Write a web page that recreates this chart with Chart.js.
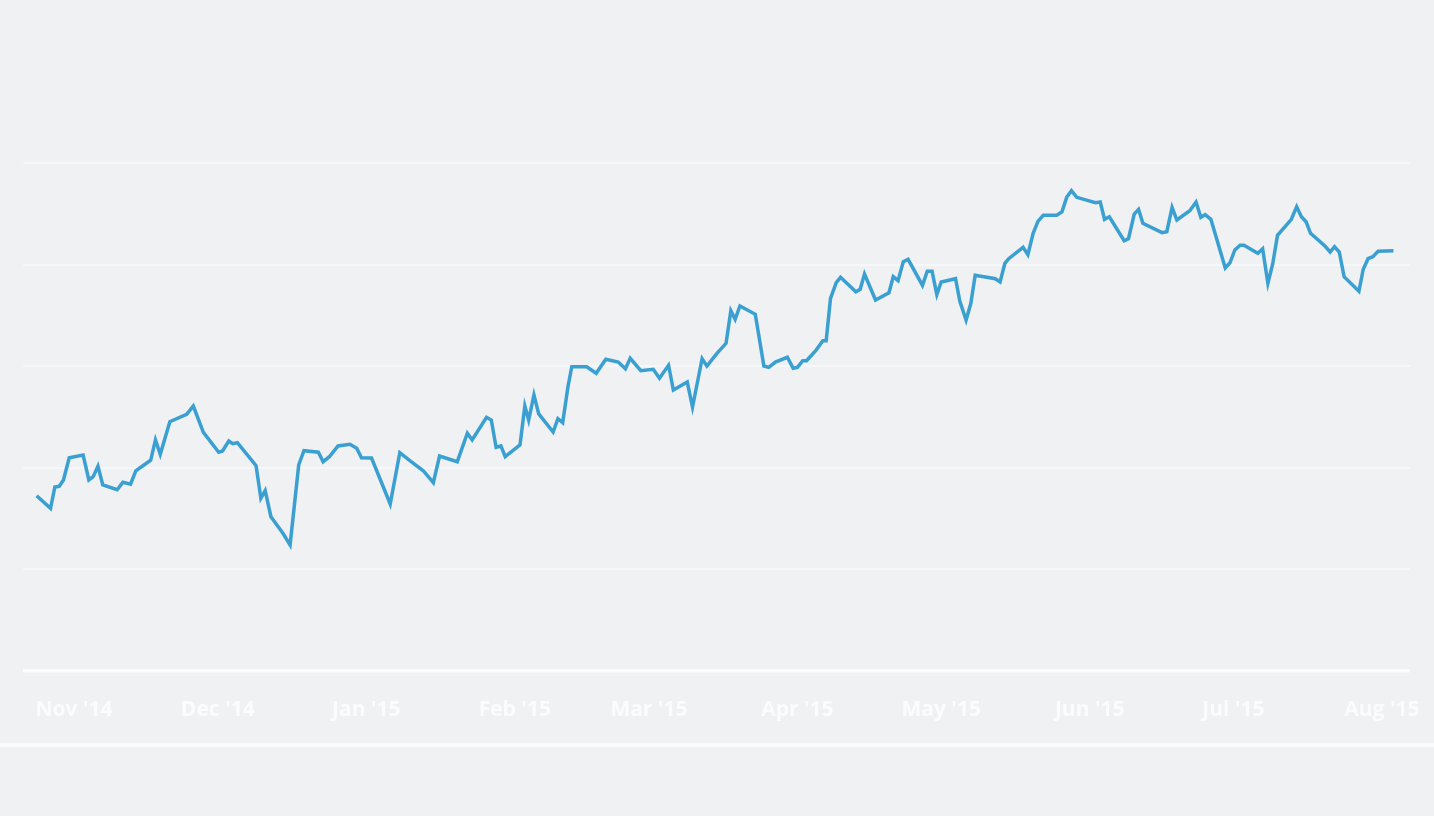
<!DOCTYPE html>
<html>
<head>
<meta charset="utf-8">
<title>Price history</title>
<script src="https://cdn.jsdelivr.net/npm/chart.js@4.4.1/dist/chart.umd.min.js"></script>
<style>
    html, body { margin: 0; padding: 0; background: #eff1f3; overflow: hidden; }
    #wrap { position: relative; width: 1434px; height: 816px; }
    #rule { position: absolute; left: 0; right: 0; top: 743px; height: 4px; background: #f9fafb; }
</style>
</head>
<body>
<div id="wrap">
    <canvas id="chart"></canvas>
    <div id="rule"></div>
</div>
<script>
// Month ticks, in days counted from 1 Nov 2014
const tickDays = [0, 30, 61, 92, 120, 151, 181, 212, 242, 273];
const tickLabels = ["Nov '14", "Dec '14", "Jan '15", "Feb '15", "Mar '15", "Apr '15", "May '15", "Jun '15", "Jul '15", "Aug '15"];

// Line vertices (day offset, value)
const days = [
    -7.8, -4.9, -4.0, -3.1, -2.2, -1.0, 1.9, 3.1, 4.0, 5.0, 6.0, 9.0, 10.2, 11.8, 12.9, 13.8,
    16.0, 17.0, 18.0, 20.0, 23.5, 24.9, 27.0, 30.2, 31.0, 32.3, 33.1, 34.1, 38.0,
    39.0, 39.9, 41.1, 43.6, 45.1, 46.9, 48.0, 51.0, 52.0, 53.3, 55.1, 57.6, 59.0, 60.0,
    62.1, 66.0, 68.0, 70.1, 72.9, 75.0, 76.3, 80.0, 82.1, 83.1,
    86.1, 87.1, 88.1, 89.1, 90.0, 93.1, 94.1, 94.9, 96.0, 97.0, 100.0, 101.0, 102.0,
    103.1, 103.9, 107.0, 109.0, 111.0, 113.6, 115.1, 116.1, 118.3, 120.9, 122.2, 124.1,
    125.1, 128.0, 129.1,
    131.1, 132.1, 134.2, 136.1, 137.1, 138.0, 139.0, 142.2, 144.0, 145.0, 146.4, 148.9,
    150.1, 151.0, 152.1, 152.9, 154.9, 156.3, 157.0, 157.9, 159.1, 160.0, 163.2, 164.1,
    165.0, 167.3, 170.1, 171.0, 172.0, 173.1, 174.1,
    177.1, 178.1, 179.1, 180.1, 181.0, 184.0, 184.9, 186.2, 187.2, 188.1, 192.3, 193.3,
    194.3, 195.1, 198.1, 199.1, 200.2, 201.2, 202.3, 205.1, 206.2, 207.2, 208.2, 209.3,
    213.2, 214.2, 215.1, 216.1, 219.2, 220.1, 221.3, 222.2,
    223.1, 227.1, 228.1, 229.2, 230.2, 232.9, 234.2, 235.2, 236.1, 237.3, 240.3, 241.3,
    242.3, 243.4, 244.2, 247.1, 248.1, 249.2, 250.2, 251.2, 254.1, 255.2, 256.2, 257.2,
    258.1, 261.1, 262.2, 263.1, 264.1, 265.1, 268.2, 269.1, 270.1, 271.1, 272.2, 275.4
];
const values = [
    172.5, 160.1, 181.1, 181.8, 188.0, 209.9, 212.6, 188.0, 191.2, 201.5, 183.1, 178.4, 185.7, 183.8, 196.9, 200.1,
    207.4, 227.4, 213.3, 245.4, 252.7, 260.8, 234.9, 215.3, 216.5, 226.4, 223.7, 224.7, 202.1,
    170.0, 177.5, 151.9, 135.5, 124.0, 202.8, 216.8, 215.3, 206.0, 210.9, 221.5, 223.1, 219.2, 209.9,
    209.6, 164.4, 214.9, 207.0, 197.1, 185.3, 211.6, 206.0, 234.0, 227.4,
    249.7, 247.0, 220.2, 221.5, 210.9, 222.7, 260.8, 247.0, 271.7, 253.0, 235.2, 248.3, 244.4,
    279.8, 299.5, 299.5, 293.0, 306.8, 304.1, 297.5, 307.8, 295.6, 296.9, 288.1, 300.9,
    276.6, 284.4, 259.8,
    307.4, 300.2, 312.7, 322.5, 354.6, 346.2, 359.3, 351.1, 300.2, 298.9, 304.1, 308.8,
    297.9, 298.9, 305.4, 305.4, 315.9, 325.1, 325.1, 366.8, 382.2, 387.5, 373.3, 375.7,
    390.7, 365.2, 372.3, 388.1, 384.2, 402.9, 405.2,
    379.6, 393.4, 393.4, 370.4, 382.9, 386.1, 363.9, 345.5, 361.9, 389.5, 386.1, 382.9,
    401.3, 405.8, 417.0, 409.7, 430.8, 442.6, 448.5, 448.5, 451.8, 466.2, 472.7, 466.2,
    460.9, 461.6, 444.6, 447.1, 423.5, 425.5, 449.8, 454.4,
    440.6, 431.4, 432.4, 456.4, 443.9, 453.1, 461.6, 446.6, 449.1, 444.6, 396.7, 401.9,
    414.4, 419.0, 419.0, 411.1, 415.6, 381.6, 400.6, 428.8, 444.6, 457.0, 447.1, 441.9,
    430.8, 418.3, 412.4, 417.6, 412.4, 388.1, 373.7, 395.4, 405.8, 407.8, 413.1, 413.7
];

const yMin = 0;
const yMax = 500;
const yStep = 100;

const points = days.map((d, i) => ({ x: d, y: values[i] }));

const ctx = document.getElementById('chart').getContext('2d');
new Chart(ctx, {
    type: 'line',
    data: {
        datasets: [{
            data: points,
            borderColor: '#3a9fd1',
            borderWidth: 3.5,
            pointRadius: 0,
            tension: 0,
            fill: false,
            borderJoinStyle: 'miter'
        }]
    },
    options: {
        responsive: true,
        maintainAspectRatio: false,
        animation: false,
        layout: {
            padding: { left: 23, right: 24, top: 163, bottom: 95 }
        },
        plugins: {
            legend: { display: false },
            tooltip: { enabled: false }
        },
        scales: {
            x: {
                type: 'linear',
                min: -10.65,
                max: 278.86,
                border: { display: false },
                grid: { display: false, drawTicks: false },
                afterBuildTicks: scale => {
                    scale.ticks = tickDays.map(v => ({ value: v }));
                },
                afterFit: scale => {
                    scale.height = 50;
                    scale.paddingLeft = 0;
                    scale.paddingRight = 0;
                },
                ticks: {
                    autoSkip: false,
                    maxRotation: 0,
                    padding: 26,
                    color: '#fbfcfd',
                    font: { family: "'Open Sans', sans-serif", size: 21, weight: '700' },
                    callback: value => {
                        const i = tickDays.indexOf(value);
                        return i >= 0 ? tickLabels[i] : '';
                    }
                }
            },
            y: {
                min: yMin,
                max: yMax,
                border: { display: false },
                afterFit: scale => { scale.width = 0; },
                ticks: { display: false, stepSize: yStep },
                grid: {
                    drawTicks: false,
                    color: c => c.tick && c.tick.value === 0 ? '#fbfcfc' : '#f6f7f8',
                    lineWidth: c => c.tick && c.tick.value === 0 ? 3.5 : 2
                }
            }
        }
    }
});
</script>
</body>
</html>
